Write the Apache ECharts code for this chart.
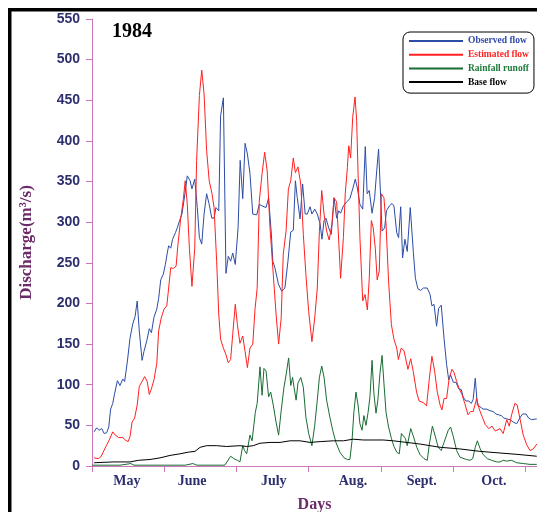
<!DOCTYPE html>
<html><head><meta charset="utf-8">
<script src="https://cdn.jsdelivr.net/npm/echarts@6/dist/echarts.min.js"></script>
<style>html,body{margin:0;padding:0;background:#fff}#c{width:537px;height:512px}</style>
</head><body><div id="c"></div><script>
// Day index from 1 May (months drawn as 31-day spans), discharge in m3/s
const monthLabels = ['May', 'June', 'July', 'Aug.', 'Sept.', 'Oct.'];
const monthTicks = [0, 31, 62, 93, 124, 155, 186];
const monthLabelDays = [15, 43, 78, 112, 141.5, 172.5];
const yTicks = [0, 50, 100, 150, 200, 250, 300, 350, 400, 450, 500, 550];
const seriesNames = ['Observed flow', 'Estimated flow', 'Rainfall runoff', 'Base flow'];

const observedFlow = [
[0.9,42],[2.0,47],[3.0,44],[4.2,46],[5.2,40],[6.3,41],[7.2,48],[8.0,70],[8.9,77],[9.7,89],[10.9,105],[12.0,99],[13.2,107],[14.0,104],[15.2,129],[16.3,157],[17.5,175],[18.5,184],[19.4,203],[20.3,166],[21.5,130],[22.3,141],[23.5,154],[24.6,169],[25.5,164],[26.6,183],[27.8,193],[28.6,206],[29.5,229],[30.6,236],[31.5,248],[32.3,262],[32.9,271],[33.8,268],[34.6,279],[35.8,287],[36.6,293],[37.5,301],[38.6,310],[39.9,335],[40.9,357],[42.1,351],[42.9,341],[44.1,353],[45.2,318],[46.1,281],[47.1,273],[48.1,310],[49.2,335],[50.3,322],[51.4,305],[52.4,305],[53.2,318],[54.4,314],[55.2,431],[56.4,453],[57.5,237],[58.5,258],[59.5,252],[60.4,262],[61.5,248],[62.7,293],[63.6,376],[64.7,329],[65.7,397],[66.7,384],[67.8,360],[69.0,310],[70.7,309],[71.8,322],[73.0,320],[74.7,318],[75.8,330],[77.0,285],[77.6,252],[78.5,244],[80.0,224],[81.4,215],[82.8,219],[84.1,252],[85.3,288],[86.4,290],[87.3,351],[88.1,330],[89.3,304],[90.4,347],[91.5,310],[92.4,310],[93.6,319],[94.4,310],[95.6,316],[96.7,310],[97.9,298],[98.7,279],[99.6,302],[100.4,305],[101.6,293],[102.7,285],[103.9,330],[105.0,305],[105.9,314],[106.7,311],[107.9,320],[109.3,325],[110.7,329],[111.9,341],[113.0,353],[113.9,342],[115.0,322],[116.2,316],[117.3,393],[118.1,335],[119.0,339],[120.2,311],[121.3,330],[122.2,363],[123.0,390],[123.9,330],[124.5,289],[125.6,293],[126.4,314],[127.6,320],[128.8,323],[129.6,320],[130.8,287],[131.6,281],[132.5,319],[133.3,256],[134.3,279],[135.3,264],[136.6,318],[137.9,264],[138.8,231],[139.9,218],[141.1,216],[142.2,219],[143.9,219],[145.1,211],[145.9,197],[146.8,199],[147.9,172],[148.8,194],[149.9,198],[151.1,157],[152.2,125],[153.1,106],[153.9,112],[155.1,103],[156.2,103],[157.4,95],[158.5,94],[159.3,85],[160.5,80],[161.7,80],[162.8,77],[163.6,82],[164.5,108],[165.4,75],[166.5,73],[167.9,70],[169.4,70],[170.8,68],[172.2,67],[173.4,64],[174.5,63],[175.7,62],[176.8,59],[178.0,58],[179.4,57],[180.8,54],[182.3,52],[183.4,58],[184.8,64],[186.3,64],[187.4,59],[188.7,57],[190.9,58]
];

const estimatedFlow = [
[0.9,10],[2.7,9],[3.7,11],[4.8,17],[6.3,26],[7.4,32],[8.9,42],[10.0,38],[11.5,35],[13.2,35],[14.3,32],[15.5,30],[16.3,36],[17.2,54],[18.3,59],[19.4,75],[20.3,98],[21.5,104],[22.6,110],[23.7,104],[24.6,88],[25.5,95],[26.6,106],[27.8,126],[28.6,166],[29.7,182],[30.9,193],[32.1,197],[32.9,219],[33.8,244],[34.9,243],[36.1,246],[36.9,273],[38.1,305],[39.2,328],[40.0,351],[40.9,322],[41.8,268],[42.9,221],[44.1,268],[44.9,376],[46.1,456],[47.1,487],[48.1,458],[49.2,388],[50.3,351],[51.5,335],[52.4,318],[53.5,252],[54.4,187],[55.2,156],[56.4,145],[57.5,137],[58.5,127],[59.5,131],[60.4,162],[61.5,199],[62.4,174],[63.5,151],[64.7,160],[65.7,141],[66.7,121],[67.8,145],[69.0,150],[70.0,194],[70.9,219],[71.8,326],[73.0,360],[74.1,386],[75.2,363],[76.4,293],[77.8,236],[79.0,187],[80.1,150],[81.2,182],[82.1,261],[83.3,289],[84.3,341],[85.3,351],[86.4,379],[87.3,361],[88.4,368],[89.6,347],[90.7,285],[91.8,236],[93.0,190],[94.4,153],[95.6,182],[96.7,219],[97.6,289],[98.6,339],[99.6,310],[100.7,289],[101.8,278],[103.0,298],[103.9,330],[105.0,325],[105.9,277],[106.7,231],[107.9,281],[108.7,335],[109.6,367],[110.2,394],[111.0,379],[111.9,429],[112.9,454],[113.6,425],[114.2,360],[115.0,281],[116.2,203],[117.2,211],[118.2,192],[119.0,231],[119.9,302],[120.7,293],[121.6,268],[122.4,229],[123.3,240],[124.2,335],[125.3,330],[126.2,298],[127.3,227],[128.5,174],[129.6,156],[130.8,145],[131.5,131],[132.7,145],[133.9,142],[135.6,119],[136.8,132],[137.9,116],[139.3,91],[140.4,80],[142.2,78],[143.6,74],[144.8,108],[145.9,135],[147.1,116],[148.2,91],[149.4,75],[150.2,69],[151.1,83],[152.2,83],[153.3,108],[154.5,119],[155.4,115],[156.5,104],[157.6,95],[158.8,88],[160.0,77],[161.4,63],[162.5,67],[163.6,67],[165.1,83],[166.2,70],[167.4,61],[168.8,51],[170.3,46],[171.7,49],[173.1,43],[175.1,46],[176.5,40],[178.0,57],[179.1,49],[180.1,63],[181.5,77],[182.5,75],[183.7,58],[185.1,38],[186.6,26],[188.0,19],[189.4,21],[190.9,27]
];

const rainfallRunoff = [
[0,1],[12,1],[16.7,3],[18,1],[40,1],[43.3,3],[45,1],[57,1],[59.5,12],[60.9,9],[62.4,7],[63.5,5],[64.7,25],[65.5,19],[66.4,15],[67.8,38],[68.7,31],[70.1,66],[70.9,77],[72.1,122],[73.0,87],[73.8,120],[74.7,117],[75.8,85],[76.7,91],[77.8,75],[79.0,54],[80.1,38],[81.2,68],[82.4,97],[83.3,112],[84.4,133],[85.3,99],[86.1,109],[86.7,97],[87.6,81],[88.4,102],[89.6,109],[90.7,97],[91.8,60],[93.0,40],[94.4,25],[95.6,50],[96.7,81],[97.6,109],[98.6,123],[99.6,109],[100.7,81],[102.1,60],[103.3,44],[104.7,29],[106.4,17],[108.2,10],[109.6,8],[110.7,8],[111.6,31],[112.4,66],[113.3,91],[114.2,75],[115.0,52],[115.9,44],[116.7,62],[117.6,50],[118.5,66],[119.3,85],[120.2,130],[121.0,89],[121.9,65],[122.7,81],[123.6,114],[124.5,136],[125.3,102],[126.2,66],[127.3,48],[128.5,34],[129.6,24],[130.8,17],[131.9,15],[132.8,40],[133.6,42],[134.5,34],[135.3,25],[136.8,46],[137.9,37],[139.4,23],[140.8,14],[142.5,9],[143.9,7],[144.8,27],[146.1,49],[147.2,38],[148.6,23],[149.9,19],[151.1,29],[152.9,44],[153.9,48],[155.1,36],[156.5,19],[157.9,11],[159.7,9],[160.8,8],[162.2,7],[163.4,9],[164.5,23],[165.4,31],[166.5,22],[167.9,14],[169.7,9],[171.5,7],[173.7,5],[175.1,5],[176.5,7],[178.0,6],[180.1,7],[182.3,4],[185.1,3],[188.0,2],[190.9,2]
];

const baseFlow = [
[0.9,4],[9.0,5],[16.3,5],[19.9,7],[24.9,8],[29.2,10],[33.5,13],[37.8,15],[41.3,17],[44.2,18],[46.4,23],[49.2,25],[53.5,25],[57.8,24],[63.5,25],[66.4,24],[69.2,25],[72.1,28],[76.4,29],[80.7,29],[85.0,31],[89.3,31],[93.6,29],[97.9,30],[103.6,31],[107.9,31],[112.1,33],[116.4,32],[120.7,32],[125.0,32],[129.3,31],[135.1,29],[140.8,27],[149.4,23],[157.9,21],[166.5,18],[175.1,16],[183.7,14],[190.9,12]
];

const lineColors = ['#2c4ca6', '#ff2020', '#1a6b33', '#000000'];
const textColors = ['#3049a9', '#ff2424', '#1d7a3b', '#000000'];
const seriesData = [observedFlow, estimatedFlow, rainfallRunoff, baseFlow];
const axisPink = '#cc77bb';
const navy = '#2d2f6e';
const purple = '#6b2a68';

const chart = echarts.init(document.getElementById('c'), null, {renderer: 'canvas'});
chart.setOption({
  animation: false,
  backgroundColor: '#fff',
  title: {
    text: '1984', left: 112, top: 22, padding: 0,
    textStyle: {fontFamily: 'Liberation Serif', fontWeight: 'bold', fontSize: 20, color: '#000'}
  },
  legend: {
    orient: 'vertical', left: 403, top: 32,
    padding: [4, 5, 6, 6],
    borderColor: '#000', borderWidth: 1, borderRadius: 7,
    itemWidth: 54, itemHeight: 2, itemGap: 3.7, icon: 'rect',
    textStyle: {fontFamily: 'Liberation Serif', fontWeight: 'bold', fontSize: 9.5, lineHeight: 10},
    data: seriesNames.map((n, i) => ({name: n, textStyle: {color: textColors[i]}}))
  },
  graphic: [
    {type: 'rect', shape: {x: 8, y: 8, width: 529, height: 3.5}, style: {fill: '#000'}},
    {type: 'rect', shape: {x: 8, y: 8, width: 3.5, height: 504}, style: {fill: '#000'}}
  ],
  grid: {left: 92, right: 0, top: 19, bottom: 46, containLabel: false, outerBoundsMode: 'none'},
  xAxis: {
    type: 'value', min: 0, max: 191,
    name: 'Days', nameLocation: 'middle', nameGap: 31,
    nameTextStyle: {fontFamily: 'Liberation Serif', fontWeight: 'bold', fontSize: 16, color: purple},
    axisLine: {show: true, lineStyle: {color: axisPink, width: 1}},
    axisTick: {show: true, customValues: monthTicks, length: 6, lineStyle: {color: axisPink, width: 1}},
    axisLabel: {
      customValues: monthLabelDays, margin: 8,
      formatter: v => monthLabels[monthLabelDays.indexOf(v)] || '',
      fontFamily: 'Liberation Serif', fontWeight: 'bold', fontSize: 14, color: navy
    },
    splitLine: {show: false}
  },
  yAxis: {
    type: 'value', min: yTicks[0], max: yTicks[yTicks.length - 1], interval: 50,
    name: 'Discharge(m³/s)', nameLocation: 'middle', nameGap: 57, nameRotate: 90,
    nameTextStyle: {fontFamily: 'Liberation Serif', fontWeight: 'bold', fontSize: 17, color: purple},
    axisLine: {show: true, lineStyle: {color: axisPink, width: 1}},
    axisTick: {show: true, length: 6, lineStyle: {color: axisPink, width: 1}},
    axisLabel: {margin: 12, fontFamily: 'Liberation Sans', fontWeight: 'bold', fontSize: 14, color: navy},
    splitLine: {show: false}
  },
  series: seriesNames.map((n, i) => ({
    name: n, type: 'line', data: seriesData[i],
    symbol: 'none', showSymbol: false, smooth: false,
    lineStyle: {color: lineColors[i], width: 1},
    itemStyle: {color: lineColors[i]},
    z: [3, 4, 2, 2][i]
  }))
});
</script></body></html>
